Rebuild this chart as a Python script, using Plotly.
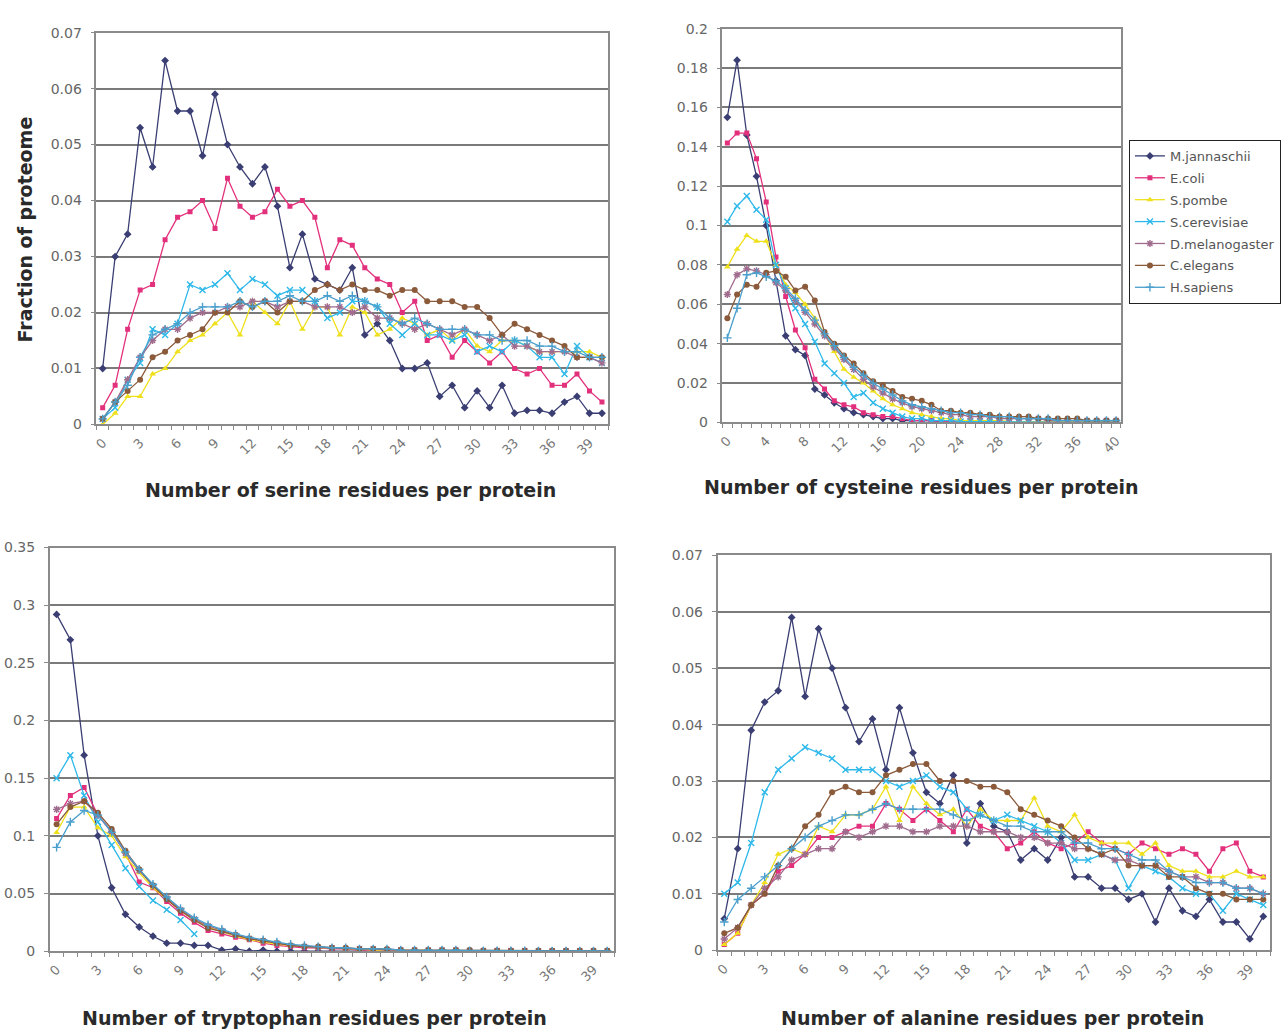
import plotly.graph_objects as go

CATEGORIES = list(range(41))
SPECIES = ["M.jannaschii", "E.coli", "S.pombe", "S.cerevisiae", "D.melanogaster", "C.elegans", "H.sapiens"]

TICKS_3 = [0, 3, 6, 9, 12, 15, 18, 21, 24, 27, 30, 33, 36, 39]
TICKS_4 = [0, 4, 8, 12, 16, 20, 24, 28, 32, 36, 40]

# ---------------- Serine ----------------
ser_mjan = [0.010, 0.030, 0.034, 0.053, 0.046, 0.065, 0.056, 0.056, 0.048, 0.059, 0.050,
            0.046, 0.043, 0.046, 0.039, 0.028, 0.034, 0.026, 0.025, 0.024, 0.028,
            0.016, 0.018, 0.015, 0.010, 0.010, 0.011, 0.005, 0.007, 0.003, 0.006,
            0.003, 0.007, 0.002, 0.0025, 0.0025, 0.002, 0.004, 0.005, 0.002, 0.002]
ser_ecoli = [0.003, 0.007, 0.017, 0.024, 0.025, 0.033, 0.037, 0.038, 0.040, 0.035, 0.044,
             0.039, 0.037, 0.038, 0.042, 0.039, 0.040, 0.037, 0.028, 0.033, 0.032,
             0.028, 0.026, 0.025, 0.020, 0.022, 0.015, 0.016, 0.012, 0.015, 0.013,
             0.011, 0.013, 0.010, 0.009, 0.010, 0.007, 0.007, 0.009, 0.006, 0.004]
ser_spombe = [0.000, 0.002, 0.005, 0.005, 0.009, 0.010, 0.013, 0.015, 0.016, 0.018, 0.020,
              0.016, 0.022, 0.020, 0.018, 0.022, 0.017, 0.021, 0.021, 0.016, 0.021,
              0.020, 0.016, 0.017, 0.019, 0.018, 0.016, 0.017, 0.015, 0.017, 0.014,
              0.013, 0.015, 0.015, 0.014, 0.013, 0.013, 0.013, 0.013, 0.013, 0.012]
ser_scer = [0.001, 0.003, 0.008, 0.011, 0.017, 0.016, 0.018, 0.025, 0.024, 0.025, 0.027,
            0.024, 0.026, 0.025, 0.023, 0.024, 0.024, 0.022, 0.019, 0.020, 0.022,
            0.022, 0.021, 0.018, 0.016, 0.018, 0.016, 0.016, 0.015, 0.016, 0.013,
            0.014, 0.013, 0.015, 0.014, 0.012, 0.012, 0.009, 0.014, 0.012, 0.011]
ser_dmel = [0.001, 0.004, 0.008, 0.012, 0.015, 0.017, 0.017, 0.019, 0.020, 0.020, 0.021,
            0.021, 0.022, 0.022, 0.021, 0.022, 0.022, 0.021, 0.021, 0.021, 0.020,
            0.021, 0.019, 0.019, 0.018, 0.017, 0.018, 0.017, 0.016, 0.017, 0.016,
            0.015, 0.016, 0.014, 0.014, 0.013, 0.013, 0.013, 0.012, 0.012, 0.011]
ser_cel = [0.001, 0.004, 0.006, 0.008, 0.012, 0.013, 0.015, 0.016, 0.017, 0.020, 0.020,
           0.022, 0.021, 0.022, 0.020, 0.022, 0.022, 0.024, 0.025, 0.024, 0.025,
           0.024, 0.024, 0.023, 0.024, 0.024, 0.022, 0.022, 0.022, 0.021, 0.021,
           0.019, 0.016, 0.018, 0.017, 0.016, 0.015, 0.014, 0.012, 0.012, 0.012]
ser_hsap = [0.001, 0.004, 0.007, 0.012, 0.016, 0.017, 0.018, 0.020, 0.021, 0.021, 0.021,
            0.022, 0.021, 0.022, 0.022, 0.023, 0.022, 0.022, 0.023, 0.022, 0.023,
            0.022, 0.021, 0.019, 0.018, 0.019, 0.018, 0.017, 0.017, 0.017, 0.016,
            0.016, 0.015, 0.015, 0.015, 0.014, 0.014, 0.013, 0.013, 0.012, 0.012]

# ---------------- Cysteine ----------------
cys_mjan = [0.155, 0.184, 0.146, 0.125, 0.100, 0.072, 0.044, 0.037, 0.034, 0.017, 0.014,
            0.010, 0.007, 0.005, 0.004, 0.003, 0.002, 0.002, 0.001, 0.001, 0.001,
            0.001, 0.0005, 0.0005, 0.0005, 0.0, 0.0, 0.0, 0.0, 0.0, 0.0,
            0.0, 0.0, 0.0, 0.0, 0.0, 0.0, 0.0, 0.0, 0.0, 0.0]
cys_ecoli = [0.142, 0.147, 0.147, 0.134, 0.112, 0.084, 0.064, 0.047, 0.038, 0.022, 0.017,
             0.011, 0.009, 0.008, 0.005, 0.004, 0.003, 0.003, 0.002, 0.001, 0.001,
             0.001, 0.0005, 0.0005, 0.0005, 0.0005, 0.0003, 0.0003, 0.0003, 0.0003, 0.0002,
             0.0002, 0.0002, 0.0002, 0.0002, 0.0001, 0.0001, 0.0001, 0.0001, 0.0001, 0.0001]
cys_spombe = [0.079, 0.088, 0.095, 0.092, 0.092, 0.080, 0.070, 0.066, 0.060, 0.053, 0.045,
              0.036, 0.027, 0.023, 0.020, 0.016, 0.012, 0.009, 0.007, 0.005, 0.004,
              0.003, 0.002, 0.002, 0.001, 0.001, 0.001, 0.001, 0.001, 0.0005, 0.0005,
              0.0005, 0.0005, 0.0005, 0.0005, 0.0003, 0.0003, 0.0003, 0.0003, 0.0003, 0.0003]
cys_scer = [0.102, 0.110, 0.115, 0.108, 0.103, 0.080, 0.068, 0.058, 0.050, 0.041, 0.030,
            0.025, 0.020, 0.013, 0.015, 0.010, 0.007, 0.005, 0.003, 0.002, 0.002,
            0.001, 0.001, 0.001, 0.0005, 0.0005, 0.0005, 0.0003, 0.0003, 0.0003, 0.0002,
            0.0002, 0.0002, 0.0002, 0.0001, 0.0001, 0.0001, 0.0001, 0.0001, 0.0001, 0.0001]
cys_dmel = [0.065, 0.075, 0.078, 0.077, 0.075, 0.071, 0.067, 0.062, 0.056, 0.050, 0.044,
            0.038, 0.032, 0.027, 0.022, 0.018, 0.015, 0.012, 0.010, 0.008, 0.007,
            0.006, 0.005, 0.004, 0.004, 0.003, 0.003, 0.003, 0.002, 0.002, 0.002,
            0.002, 0.002, 0.001, 0.001, 0.001, 0.001, 0.001, 0.001, 0.001, 0.001]
cys_cel = [0.053, 0.065, 0.070, 0.069, 0.076, 0.077, 0.074, 0.067, 0.069, 0.062, 0.046,
           0.040, 0.034, 0.030, 0.025, 0.021, 0.019, 0.016, 0.013, 0.012, 0.011,
           0.009, 0.006, 0.006, 0.005, 0.005, 0.004, 0.004, 0.003, 0.003, 0.003,
           0.003, 0.002, 0.002, 0.002, 0.002, 0.002, 0.001, 0.001, 0.001, 0.001]
cys_hsap = [0.043, 0.058, 0.075, 0.076, 0.074, 0.072, 0.068, 0.063, 0.057, 0.052, 0.045,
            0.039, 0.033, 0.028, 0.024, 0.020, 0.017, 0.014, 0.011, 0.009, 0.008,
            0.007, 0.006, 0.005, 0.005, 0.004, 0.004, 0.003, 0.003, 0.003, 0.002,
            0.002, 0.002, 0.002, 0.001, 0.001, 0.001, 0.001, 0.001, 0.001, 0.001]

# ---------------- Tryptophan ----------------
trp_mjan = [0.292, 0.270, 0.170, 0.100, 0.055, 0.032, 0.021, 0.013, 0.007, 0.007, 0.005,
            0.005, 0.001, 0.002, 0.000, 0.001, 0.000, 0.000, 0.000, 0.000, 0.000,
            0.000, 0.000, 0.000, 0.000, 0.000, 0.000, 0.000, 0.000, 0.000, 0.000,
            0.000, 0.000, 0.000, 0.000, 0.000, 0.000, 0.000, 0.000, 0.000, 0.000]
trp_ecoli = [0.115, 0.135, 0.142, 0.118, 0.103, 0.085, 0.060, 0.055, 0.043, 0.033, 0.025,
             0.018, 0.015, 0.012, 0.010, 0.007, 0.005, 0.004, 0.003, 0.003, 0.002,
             0.002, 0.001, 0.001, 0.001, 0.001, 0.0005, 0.0005, 0.0005, 0.0005, 0.0003,
             0.0003, 0.0003, 0.0003, 0.0002, 0.0002, 0.0002, 0.0002, 0.0001, 0.0001, 0.0001]
trp_spombe = [0.103, 0.125, 0.125, 0.107, 0.100, 0.082, 0.068, 0.055, 0.045, 0.035, 0.027,
              0.021, 0.017, 0.013, 0.010, 0.008, 0.006, 0.005, 0.004, 0.003, 0.003,
              0.002, 0.002, 0.001, 0.001, 0.001, 0.001, 0.0005, 0.0005, 0.0005, 0.0005,
              0.0003, 0.0003, 0.0003, 0.0003, 0.0002, 0.0002, 0.0002, 0.0002, 0.0001, 0.0001]
trp_scer = [0.150, 0.170, 0.135, 0.112, 0.092, 0.072, 0.056, 0.044, 0.036, 0.027, 0.015,
            None, None, None, None, None, None, None, None, None, None,
            None, None, None, None, None, None, None, None, None, None,
            None, None, None, None, None, None, None, None, None, None]
trp_dmel = [0.123, 0.128, 0.130, 0.118, 0.104, 0.085, 0.070, 0.057, 0.046, 0.036, 0.028,
            0.022, 0.018, 0.014, 0.011, 0.009, 0.007, 0.005, 0.004, 0.003, 0.003,
            0.002, 0.002, 0.002, 0.001, 0.001, 0.001, 0.001, 0.001, 0.001, 0.0005,
            0.0005, 0.0005, 0.0005, 0.0005, 0.0003, 0.0003, 0.0003, 0.0003, 0.0003, 0.0003]
trp_cel = [0.110, 0.125, 0.130, 0.120, 0.106, 0.087, 0.071, 0.057, 0.045, 0.035, 0.027,
           0.020, 0.017, 0.014, 0.011, 0.009, 0.007, 0.005, 0.004, 0.004, 0.003,
           0.003, 0.002, 0.002, 0.002, 0.001, 0.001, 0.001, 0.001, 0.001, 0.001,
           0.0005, 0.0005, 0.0005, 0.0005, 0.0005, 0.0003, 0.0003, 0.0003, 0.0003, 0.0003]
trp_hsap = [0.090, 0.112, 0.122, 0.118, 0.103, 0.086, 0.071, 0.058, 0.047, 0.037, 0.029,
            0.023, 0.019, 0.015, 0.012, 0.010, 0.008, 0.006, 0.005, 0.004, 0.003,
            0.003, 0.002, 0.002, 0.002, 0.001, 0.001, 0.001, 0.001, 0.001, 0.0005,
            0.0005, 0.0005, 0.0005, 0.0005, 0.0003, 0.0003, 0.0003, 0.0003, 0.0003, 0.0003]

# ---------------- Alanine ----------------
ala_mjan = [0.0056, 0.018, 0.039, 0.044, 0.046, 0.059, 0.045, 0.057, 0.050, 0.043, 0.037,
            0.041, 0.032, 0.043, 0.035, 0.028, 0.026, 0.031, 0.019, 0.026, 0.022,
            0.021, 0.016, 0.018, 0.016, 0.020, 0.013, 0.013, 0.011, 0.011, 0.009,
            0.010, 0.005, 0.011, 0.007, 0.006, 0.009, 0.005, 0.005, 0.002, 0.006]
ala_ecoli = [0.001, 0.003, 0.008, 0.010, 0.014, 0.015, 0.017, 0.020, 0.020, 0.021, 0.022,
             0.022, 0.026, 0.025, 0.023, 0.025, 0.023, 0.021, 0.025, 0.022, 0.021,
             0.018, 0.019, 0.021, 0.019, 0.018, 0.019, 0.021, 0.019, 0.018, 0.017,
             0.019, 0.018, 0.017, 0.018, 0.017, 0.014, 0.018, 0.019, 0.014, 0.013]
ala_spombe = [0.001, 0.003, 0.008, 0.012, 0.017, 0.018, 0.017, 0.022, 0.021, 0.024, 0.024,
              0.025, 0.029, 0.023, 0.029, 0.026, 0.024, 0.025, 0.022, 0.025, 0.023,
              0.023, 0.023, 0.027, 0.022, 0.021, 0.024, 0.020, 0.019, 0.019, 0.019,
              0.017, 0.019, 0.015, 0.014, 0.014, 0.013, 0.013, 0.014, 0.013, 0.013]
ala_scer = [0.010, 0.012, 0.019, 0.028, 0.032, 0.034, 0.036, 0.035, 0.034, 0.032, 0.032,
            0.032, 0.030, 0.029, 0.030, 0.031, 0.029, 0.028, 0.025, 0.024, 0.023,
            0.024, 0.023, 0.022, 0.021, 0.019, 0.016, 0.016, 0.017, 0.016, 0.011,
            0.015, 0.014, 0.013, 0.011, 0.010, 0.010, 0.007, 0.010, 0.009, 0.008]
ala_dmel = [0.002, 0.004, 0.008, 0.011, 0.013, 0.016, 0.017, 0.018, 0.018, 0.021, 0.020,
            0.021, 0.022, 0.022, 0.021, 0.021, 0.022, 0.022, 0.022, 0.021, 0.021,
            0.021, 0.020, 0.020, 0.019, 0.019, 0.018, 0.018, 0.017, 0.016, 0.016,
            0.015, 0.015, 0.014, 0.013, 0.013, 0.012, 0.012, 0.011, 0.011, 0.010]
ala_cel = [0.003, 0.004, 0.008, 0.010, 0.015, 0.018, 0.022, 0.024, 0.028, 0.029, 0.028,
           0.028, 0.031, 0.032, 0.033, 0.033, 0.030, 0.030, 0.030, 0.029, 0.029,
           0.028, 0.025, 0.024, 0.023, 0.022, 0.020, 0.018, 0.017, 0.018, 0.015,
           0.015, 0.015, 0.013, 0.013, 0.011, 0.010, 0.010, 0.009, 0.009, 0.009]
ala_hsap = [0.005, 0.009, 0.011, 0.013, 0.015, 0.018, 0.020, 0.022, 0.023, 0.024, 0.024,
            0.025, 0.026, 0.025, 0.025, 0.025, 0.025, 0.024, 0.023, 0.024, 0.023,
            0.022, 0.022, 0.021, 0.021, 0.021, 0.019, 0.019, 0.018, 0.018, 0.017,
            0.016, 0.016, 0.014, 0.013, 0.012, 0.012, 0.012, 0.011, 0.011, 0.010]

PANELS = [
    ([ser_mjan, ser_ecoli, ser_spombe, ser_scer, ser_dmel, ser_cel, ser_hsap],
     "Number of serine residues per protein", TICKS_3, 0.07, 0.01),
    ([cys_mjan, cys_ecoli, cys_spombe, cys_scer, cys_dmel, cys_cel, cys_hsap],
     "Number of cysteine residues per protein", TICKS_4, 0.2, 0.02),
    ([trp_mjan, trp_ecoli, trp_spombe, trp_scer, trp_dmel, trp_cel, trp_hsap],
     "Number of tryptophan residues per protein", TICKS_3, 0.35, 0.05),
    ([ala_mjan, ala_ecoli, ala_spombe, ala_scer, ala_dmel, ala_cel, ala_hsap],
     "Number of alanine residues per protein", TICKS_3, 0.07, 0.01),
]

COLORS = ["#3a3e72", "#e3307c", "#efe01c", "#2fb9ea", "#a06c8e", "#8a5a3a", "#4a9fcc"]
SYMBOLS = ["diamond", "square", "triangle-up", "x-thin-open", "asterisk-open", "circle", "cross-thin-open"]
SIZES = [6, 5, 6, 6, 6, 6, 6]

W, H = 1281, 1036
BOXES = [(92, 607, 25, 423), (722, 1123, 21, 421), (45, 613, 548, 958), (717, 1273, 556, 957)]
TITLE_POS = [(348, 490), (922, 487), (311, 1026), (994, 1026)]

FONT = "DejaVu Sans, Verdana, Arial, sans-serif"

fig = go.Figure()
for p, (series, xtitle, ticks, ymax, dtick) in enumerate(PANELS):
    suffix = "" if p == 0 else str(p + 1)
    for s, vals in enumerate(series):
        open_sym = SYMBOLS[s].endswith("open")
        fig.add_trace(go.Scatter(
            x=CATEGORIES, y=vals, mode="lines+markers", name=SPECIES[s],
            legendgroup=SPECIES[s], showlegend=(p == 0),
            line=dict(color=COLORS[s], width=1.3),
            marker=dict(symbol=SYMBOLS[s], size=SIZES[s], color=COLORS[s],
                        line=dict(color=COLORS[s], width=1.4 if open_sym else 0)),
            connectgaps=False,
            xaxis="x" + suffix, yaxis="y" + suffix,
        ))
    x0, x1, y0, y1 = BOXES[p]
    fig.layout["xaxis" + suffix] = dict(
        domain=[x0 / W, x1 / W], anchor="y" + suffix, range=[-0.5, 40.5],
        tickmode="array", tickvals=ticks, ticktext=[str(t) for t in ticks],
        tickangle=-45, ticks="", showgrid=False, zeroline=False,
        showline=True, linecolor="#8a8a8a", linewidth=1.5, mirror=True,
        tickfont=dict(family=FONT, size=13, color="#777777"),
        ticklabelstandoff=4,
        minor=dict(tickmode="linear", tick0=0.5, dtick=1, ticks="outside",
                   ticklen=4, tickcolor="#8a8a8a", showgrid=False),
    )
    fig.layout["yaxis" + suffix] = dict(
        domain=[1 - y1 / H, 1 - y0 / H], anchor="x" + suffix, range=[0, ymax],
        dtick=dtick, tick0=0, showgrid=True, gridcolor="#7a7a7a", gridwidth=1.6,
        zeroline=False, showline=True, linecolor="#8a8a8a", linewidth=1.5, mirror=True,
        ticks="outside", ticklen=4, tickcolor="#8a8a8a",
        ticklabelstandoff=6,
        tickfont=dict(family=FONT, size=14, color="#666666"),
    )
    tx, ty = TITLE_POS[p]
    fig.add_annotation(text="<b>" + xtitle + "</b>", x=tx / W, y=1 - ty / H,
                       xref="paper", yref="paper", showarrow=False,
                       xanchor="center", yanchor="middle",
                       font=dict(family=FONT, size=19, color="#2a2a2a"))

fig.add_annotation(text="<b>Fraction of proteome</b>", x=20 / W, y=1 - 225 / H,
                   xref="paper", yref="paper", showarrow=False, textangle=-90,
                   xanchor="center", yanchor="middle",
                   font=dict(family=FONT, size=19, color="#2a2a2a"))

fig.update_layout(
    width=W, height=H, margin=dict(l=0, r=0, t=0, b=0),
    paper_bgcolor="white", plot_bgcolor="white",
    legend=dict(x=1131 / W, y=1 - 134 / H, xanchor="left", yanchor="top",
                bordercolor="#222222", borderwidth=1, bgcolor="white",
                font=dict(family=FONT, size=13, color="#555555"),
                tracegroupgap=2, itemwidth=30),
)

fig.write_html("out.html")
